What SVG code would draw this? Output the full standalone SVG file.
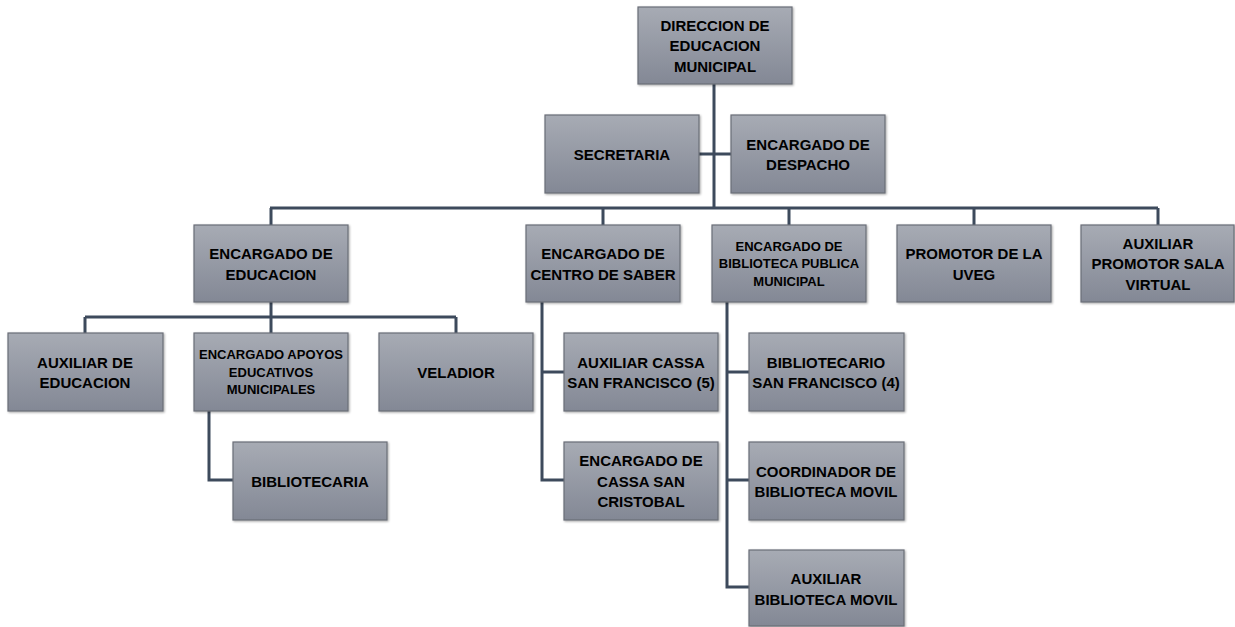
<svg xmlns="http://www.w3.org/2000/svg" width="1235" height="627" viewBox="0 0 1235 627">
<defs>
<linearGradient id="g" x1="0" y1="0" x2="0" y2="1">
<stop offset="0" stop-color="#a7abb4"/>
<stop offset="1" stop-color="#838895"/>
</linearGradient>
<filter id="sh" x="-5%" y="-5%" width="115%" height="115%">
<feDropShadow dx="1" dy="1" stdDeviation="0.8" flood-color="#000" flood-opacity="0.35"/>
</filter>
</defs>
<style>
.box{fill:url(#g);stroke:#6a6e77;stroke-width:1.2;filter:url(#sh)}
text{font-family:"Liberation Sans",Arial,sans-serif;font-weight:bold;fill:#000;text-anchor:middle;font-size:15px}
text.s{font-size:13px}
.c{fill:none;stroke:#3d4a5c;stroke-width:3}
</style>
<rect width="1235" height="627" fill="#fff"/>
<g id="connectors">
<path class="c" d="M714 84V208M699 154H731"/>
<path class="c" d="M270 208H1158M271 208V225M603 208V225M789 208V225M974 208V225M1158 208V225"/>
<path class="c" d="M271 302V317M85 317H456M85 317V333M271 317V333M456 317V333"/>
<path class="c" d="M209 411V480H233"/>
<path class="c" d="M542 302V480H564M542 372H564"/>
<path class="c" d="M727 302V587H749M727 372H749M727 480H749"/>
</g>
<g id="n1"><rect class="box" x="638" y="7" width="154" height="77"/><text x="715" y="30.5">DIRECCION DE</text><text x="715" y="51">EDUCACION</text><text x="715" y="71.5">MUNICIPAL</text></g>
<g id="n2"><rect class="box" x="545" y="115" width="154" height="78"/><text x="622" y="159.5">SECRETARIA</text></g>
<g id="n3"><rect class="box" x="731" y="115" width="154" height="78"/><text x="808" y="149.5">ENCARGADO DE</text><text x="808" y="169.5">DESPACHO</text></g>
<g id="n4"><rect class="box" x="194" y="225" width="154" height="77"/><text x="271" y="259">ENCARGADO DE</text><text x="271" y="279.5">EDUCACION</text></g>
<g id="n5"><rect class="box" x="526" y="225" width="154" height="77"/><text x="603" y="259">ENCARGADO DE</text><text x="603" y="279.5">CENTRO DE SABER</text></g>
<g id="n6"><rect class="box" x="712" y="225" width="154" height="77"/><text class="s" x="789" y="250.5">ENCARGADO DE</text><text class="s" x="789" y="268">BIBLIOTECA PUBLICA</text><text class="s" x="789" y="285.5">MUNICIPAL</text></g>
<g id="n7"><rect class="box" x="897" y="225" width="154" height="77"/><text x="974" y="259">PROMOTOR DE LA</text><text x="974" y="279.5">UVEG</text></g>
<g id="n8"><rect class="box" x="1081" y="225" width="153" height="77"/><text x="1158" y="248.5">AUXILIAR</text><text x="1158" y="269">PROMOTOR SALA</text><text x="1158" y="289.5">VIRTUAL</text></g>
<g id="n9"><rect class="box" x="8" y="333" width="155" height="78"/><text x="85" y="367.5">AUXILIAR DE</text><text x="85" y="388">EDUCACION</text></g>
<g id="n10"><rect class="box" x="194" y="333" width="154" height="78"/><text class="s" x="271" y="359">ENCARGADO APOYOS</text><text class="s" x="271" y="376.5">EDUCATIVOS</text><text class="s" x="271" y="394">MUNICIPALES</text></g>
<g id="n11"><rect class="box" x="379" y="333" width="154" height="78"/><text x="456" y="377.5">VELADIOR</text></g>
<g id="n12"><rect class="box" x="564" y="333" width="154" height="78"/><text x="641" y="367.5">AUXILIAR CASSA</text><text x="641" y="388">SAN FRANCISCO (5)</text></g>
<g id="n13"><rect class="box" x="749" y="333" width="155" height="78"/><text x="826" y="367.5">BIBLIOTECARIO</text><text x="826" y="388">SAN FRANCISCO (4)</text></g>
<g id="n14"><rect class="box" x="233" y="442" width="154" height="78"/><text x="310" y="486.5">BIBLIOTECARIA</text></g>
<g id="n15"><rect class="box" x="564" y="442" width="154" height="78"/><text x="641" y="466">ENCARGADO DE</text><text x="641" y="486.5">CASSA SAN</text><text x="641" y="507">CRISTOBAL</text></g>
<g id="n16"><rect class="box" x="749" y="442" width="155" height="78"/><text x="826" y="476.5">COORDINADOR DE</text><text x="826" y="496.5">BIBLIOTECA MOVIL</text></g>
<g id="n17"><rect class="box" x="749" y="550" width="155" height="76"/><text x="826" y="583.5">AUXILIAR</text><text x="826" y="604.5">BIBLIOTECA MOVIL</text></g>
</svg>
